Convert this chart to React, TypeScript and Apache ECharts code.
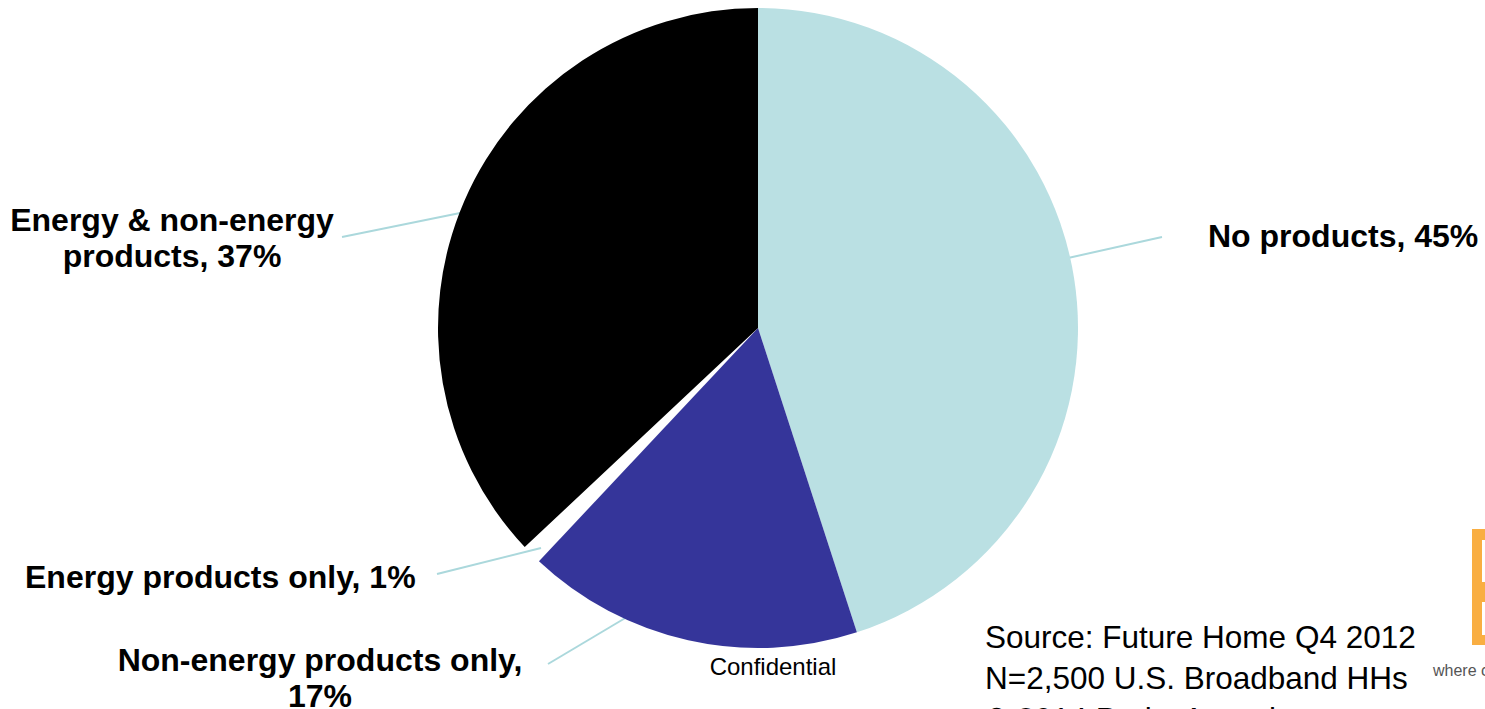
import React, { useEffect, useRef } from "react";
import * as echarts from "echarts";

const categories = [
  "No products",
  "Non-energy products only",
  "Energy products only",
  "Energy & non-energy products",
];
const shares = [45, 17, 1, 37];
const sliceColors = ["#BAE0E3", "#35359A", "rgba(255,255,255,0)", "#000000"];
const sourceLines = [
  "Source: Future Home Q4 2012",
  "N=2,500 U.S. Broadband HHs",
  "\u00A9 2014 Parks Associates",
];
const footerText = "Confidential";
const logoTagline = "where c";

// label placement (layout only)
const labelPlacement = [
  { x: 1208, y: 236, align: "left", breakAfter: "", from: [1068, 258], to: [1162, 237] },
  { x: 320, y: 678, align: "center", breakAfter: "only,", from: [627, 617], to: [548, 664] },
  { x: 25, y: 577, align: "left", breakAfter: "", from: [541, 548], to: [437, 574] },
  { x: 172, y: 238, align: "center", breakAfter: "non-energy", from: [465, 212], to: [342, 237] },
];

const FONT = "'Liberation Sans', Arial, Helvetica, sans-serif";

export default function App() {
  const ref = useRef<HTMLDivElement>(null);
  useEffect(() => {
    if (!ref.current) return;
    const chart = echarts.init(ref.current, undefined, { renderer: "svg" });
    const option: any = {
      animation: false,
      backgroundColor: "#ffffff",
      series: [
        {
          type: "pie",
          center: [758, 328],
          radius: 320,
          startAngle: 90,
          clockwise: true,
          avoidLabelOverlap: false,
          silent: true,
          data: categories.map((name, i) => ({
            name,
            value: shares[i],
            itemStyle: { color: sliceColors[i] },
          })),
          label: {
            show: true,
            position: "outside",
            fontFamily: FONT,
            fontWeight: "bold",
            fontSize: 32,
            lineHeight: 36,
            color: "#000000",
            formatter: (p: any) => {
              const txt = `${p.name}, ${p.value}%`;
              const b = labelPlacement[p.dataIndex].breakAfter;
              if (!b) return txt;
              const k = txt.indexOf(b) + b.length;
              return txt.slice(0, k) + "\n" + txt.slice(k).trim();
            },
          },
          labelLine: {
            show: true,
            lineStyle: { color: "#ABD8DC", width: 2 },
          },
          labelLayout: (params: any) => {
            const L = labelPlacement[params.dataIndex];
            return {
              x: L.x,
              y: L.y,
              align: L.align,
              verticalAlign: "middle",
              labelLinePoints: [L.from, L.to, L.to],
            };
          },
        },
      ],
      graphic: [
        {
          type: "text",
          x: 773,
          y: 666,
          style: {
            text: footerText,
            font: `24px ${FONT}`,
            fill: "#000000",
            textAlign: "center",
            textVerticalAlign: "middle",
          },
        },
        ...sourceLines.map((t, i) => ({
          type: "text",
          x: 985,
          y: 637 + i * 41,
          style: {
            text: t,
            font: `31.5px ${FONT}`,
            fill: "#000000",
            textAlign: "left",
            textVerticalAlign: "middle",
          },
        })),
        {
          type: "group",
          children: [
            { type: "rect", shape: { x: 1472, y: 529, width: 20, height: 116 }, style: { fill: "#F9AE42" } },
            { type: "rect", shape: { x: 1482, y: 540, width: 10, height: 42 }, style: { fill: "#FFFFFF" } },
            { type: "rect", shape: { x: 1482, y: 602, width: 10, height: 33 }, style: { fill: "#FFFFFF" } },
            {
              type: "text",
              x: 1433,
              y: 670,
              style: {
                text: logoTagline,
                font: `16px 'Liberation Sans Narrow', 'Arial Narrow', ${FONT}`,
                fill: "#555555",
                textVerticalAlign: "middle",
              },
            },
          ],
        },
      ],
    };
    chart.setOption(option);
    return () => chart.dispose();
  }, []);
  return (
    <div
      ref={ref}
      style={{ position: "fixed", left: 0, top: 0, width: 1485, height: 709, background: "#fff" }}
    />
  );
}
